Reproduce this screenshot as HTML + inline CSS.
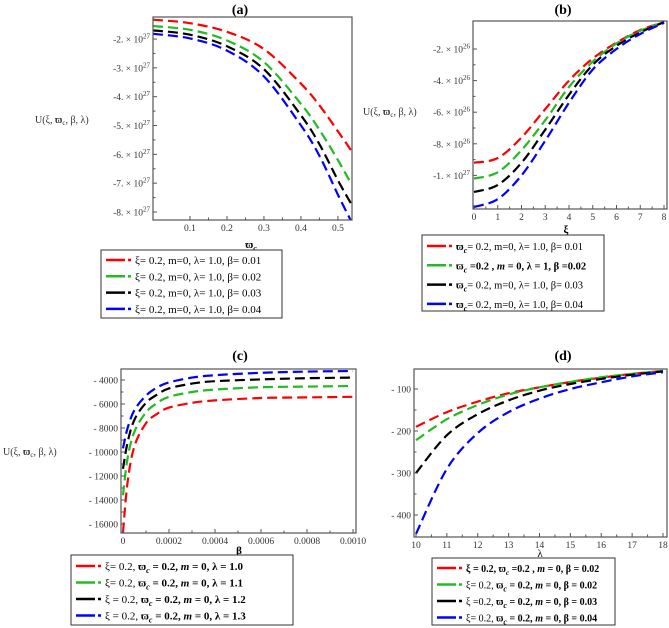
<!DOCTYPE html>
<html><head><meta charset="utf-8">
<style>
html,body{margin:0;padding:0;background:#fff;}
svg{display:block;font-family:"Liberation Serif",serif;}
</style></head>
<body>
<svg id="fig" width="669" height="628" viewBox="0 0 669 628"></svg>
<script>
// ---- Panel (a) data ----
const aX = [0, 0.1, 0.2, 0.3, 0.4, 0.45, 0.5, 0.535];
const aRed = [-1.33, -1.45, -1.75, -2.35, -3.55, -4.3, -5.2, -5.85];
const aGreen = [-1.55, -1.68, -2.05, -2.8, -4.25, -5.15, -6.2, -7.0];
const aBlack = [-1.7, -1.85, -2.25, -3.05, -4.65, -5.65, -6.9, -7.7];
const aBlue = [-1.82, -1.98, -2.4, -3.3, -5.0, -6.05, -7.4, -8.3];
const aXTicks = [0.1, 0.2, 0.3, 0.4, 0.5];
const aYTicks = [-2, -3, -4, -5, -6, -7, -8];
// ---- Panel (b) data ----
const bX = [0, 1, 2, 3, 4, 5, 6, 7, 8];
const bRed = [-9.2, -8.9, -7.6, -5.8, -4.0, -2.6, -1.6, -0.8, -0.3];
const bGreen = [-10.2, -9.8, -8.4, -6.5, -4.4, -2.8, -1.65, -0.85, -0.3];
const bBlack = [-11.05, -10.6, -9.2, -7.1, -4.9, -3.0, -1.8, -0.95, -0.3];
const bBlue = [-12.0, -11.5, -10.0, -7.8, -5.4, -3.3, -2.0, -1.05, -0.35];
const bXTicks = [0, 1, 2, 3, 4, 5, 6, 7, 8];
const bYTicks = [-2, -4, -6, -8, -10];
// ---- Panel (c) data ----
const cX = [0, 0.00002, 0.00005, 0.0001, 0.00015, 0.0002, 0.0003, 0.0004, 0.0006, 0.0008, 0.001];
const cRed = [-16700, -12500, -9500, -7600, -6800, -6300, -5900, -5700, -5500, -5450, -5400];
const cGreen = [-13600, -10500, -8300, -6700, -5900, -5400, -5000, -4800, -4600, -4550, -4500];
const cBlack = [-11400, -9200, -7300, -5900, -5200, -4700, -4300, -4100, -3950, -3850, -3800];
const cBlue = [-9700, -8000, -6500, -5300, -4600, -4200, -3800, -3600, -3400, -3300, -3250];
const cXTicks = [0, 0.0002, 0.0004, 0.0006, 0.0008, 0.001];
const cXTickLabels = ["0", "0.0002", "0.0004", "0.0006", "0.0008", "0.0010"];
const cYTicks = [-4000, -6000, -8000, -10000, -12000, -14000, -16000];
// ---- Panel (d) data ----
const dX = [10, 11, 12, 13, 14, 15, 16, 17, 18];
const dRed = [-190, -155, -130, -110, -96, -83, -73, -64, -57];
const dGreen = [-222, -172, -138, -113, -96, -83, -72, -64, -57];
const dBlack = [-300, -210, -160, -127, -104, -88, -76, -66, -58];
const dBlue = [-445, -290, -205, -155, -123, -100, -84, -70, -60];
const dXTicks = [10, 11, 12, 13, 14, 15, 16, 17, 18];
const dYTicks = [-100, -200, -300, -400];

const NS = "http://www.w3.org/2000/svg";
const svg = document.getElementById("fig");
const colors = ["#ff0000", "#22bb22", "#000000", "#0000ff"];
function mk(tag, attrs, parent, txt) {
  const e = document.createElementNS(NS, tag);
  for (const k in attrs) e.setAttribute(k, attrs[k]);
  if (txt !== undefined) e.textContent = txt;
  (parent || svg).appendChild(e);
  return e;
}
function lin(d0, d1, r0, r1) { return v => r0 + (v - d0) * (r1 - r0) / (d1 - d0); }
function smoothPath(pts) {
  // monotone-ish Catmull-Rom
  let d = "M" + pts[0][0].toFixed(1) + "," + pts[0][1].toFixed(1);
  for (let i = 0; i < pts.length - 1; i++) {
    const p0 = pts[Math.max(0, i - 1)], p1 = pts[i], p2 = pts[i + 1], p3 = pts[Math.min(pts.length - 1, i + 2)];
    const c1 = [p1[0] + (p2[0] - p0[0]) / 6, p1[1] + (p2[1] - p0[1]) / 6];
    const c2 = [p2[0] - (p3[0] - p1[0]) / 6, p2[1] - (p3[1] - p1[1]) / 6];
    d += " C" + c1[0].toFixed(1) + "," + c1[1].toFixed(1) + " " + c2[0].toFixed(1) + "," + c2[1].toFixed(1) + " " + p2[0].toFixed(1) + "," + p2[1].toFixed(1);
  }
  return d;
}

function panel(p) {
  const g = mk("g", {});
  
  
  const sx = lin(p.xd[0], p.xd[1], p.box[0], p.box[2]);
  const sy = lin(p.yd[0], p.yd[1], p.box[3], p.box[1]);
  const t = mk("text", {x: p.title[0], y: p.title[1], "text-anchor": "middle", "font-size": 14, "font-weight": "bold"}, g, p.titleText);
  
  
  const clipId = "clip-" + p.name;
  const cp = mk("clipPath", {id: clipId}, g);
  mk("rect", {x: p.box[0], y: p.box[1], width: p.box[2] - p.box[0], height: p.box[3] - p.box[1]}, cp);
  p.series.forEach((ys, i) => {
    const pts = p.xs.map((x, j) => [sx(x), sy(ys[j])]);
    const pl = mk("path", {d: smoothPath(pts), fill: "none", stroke: colors[i], "stroke-width": 2.2, "stroke-dasharray": "10 5", "clip-path": "url(#" + clipId + ")"}, g);
    
    
  });
  const fr = mk("rect", {x: p.box[0], y: p.box[1], width: p.box[2] - p.box[0], height: p.box[3] - p.box[1], fill: "none", stroke: "#555", "stroke-width": 1.2}, g);
  
  
  p.xt.forEach((v, i) => {
    const x = sx(v);
    mk("line", {x1: x, x2: x, y1: p.box[3], y2: p.box[3] - 4, stroke: "#555"}, g);
    const tl = mk("text", {x: x, y: p.box[3] + 11, "text-anchor": "middle", "font-size": 9.5, fill: "#333"}, g, p.xtl ? p.xtl[i] : String(v));
    
    
  });
  for (let i = 0; i < p.xt.length - 1; i++) {
    const x = sx((p.xt[i] + p.xt[i + 1]) / 2);
    mk("line", {x1: x, x2: x, y1: p.box[3], y2: p.box[3] - 2.5, stroke: "#555"}, g);
  }
  p.yt.forEach((v, i) => {
    const y = sy(v);
    mk("line", {x1: p.box[0], x2: p.box[0] + 4, y1: y, y2: y, stroke: "#555"}, g);
    const tl = mk("text", {x: p.box[0] - 3, y: y + 3.5, "text-anchor": "end", "font-size": 9.5, fill: "#333"}, g);
    
    
    if (p.exp) {
      mk("tspan", {}, tl, "-" + Math.abs(v === -10 ? 1 : v) + ". \u00d7 10");
      mk("tspan", {dy: -4, "font-size": 7}, tl, v === -10 ? String(p.exp + 1) : String(p.exp));
    } else {
      tl.textContent = "- " + Math.abs(v);
    }
  });
  for (let i = 0; i < p.yt.length - 1; i++) {
    const y = sy((p.yt[i] + p.yt[i + 1]) / 2);
    mk("line", {x1: p.box[0], x2: p.box[0] + 2.5, y1: y, y2: y, stroke: "#555"}, g);
  }
  const xl = mk("text", {x: p.xlab[0], y: p.xlab[1], "text-anchor": "middle", "font-size": 11, "font-weight": "bold"}, g);
  
  
  xl.innerHTML = p.xlabHtml;
  if (p.ylab) {
    const yl = mk("text", {x: p.ylab[0], y: p.ylab[1], "font-size": 10, fill: "#333"}, g);
    
    
    yl.innerHTML = p.ylabHtml;
  }
  const L = p.leg;
  const lb = mk("rect", {x: L.x, y: L.y, width: L.w, height: L.h, fill: "#fff", stroke: "#333", "stroke-width": 1}, g);
  
  
  L.rows.forEach((r, i) => {
    const y = L.y + L.first + i * L.step;
    const eg = mk("g", {}, g);
    
    
    mk("line", {x1: L.x + 5, x2: L.x + 24, y1: y, y2: y, stroke: colors[i], "stroke-width": 2.5}, eg);
    mk("line", {x1: L.x + 27, x2: L.x + 30, y1: y, y2: y, stroke: colors[i], "stroke-width": 2.5}, eg);
    const tx = mk("text", {x: L.x + 34, y: y + 4, "font-size": L.fs}, eg);
    tx.innerHTML = r;
  });
}

const ypre = 'U(ξ, <tspan font-weight="bold">ϖ</tspan><tspan font-size="7" dy="2">c</tspan><tspan dy="-2">, β, λ)</tspan>';
const omc = '<tspan font-weight="bold">ϖ</tspan><tspan font-size="8" dy="3" font-weight="bold" font-style="italic">c</tspan><tspan dy="-3">';

panel({name: "panel-a", titleText: "(a)", title: [240, 14], box: [153, 17, 352, 220],
  xd: [0, 0.538], yd: [-8.0 - (220 - 212) / 28.8, -2 + (39 - 17) / 28.8], xs: aX, series: [aRed, aGreen, aBlack, aBlue],
  xt: aXTicks, yt: aYTicks, exp: 27, xlab: [251, 248],
  xlabHtml: 'ϖ<tspan font-size="8" dy="3" font-style="italic">c</tspan>',
  ylab: [35, 123], ylabHtml: ypre,
  leg: {x: 101, y: 250, w: 181, h: 68, first: 10, step: 16.3, fs: 11,
    rows: ["ξ= 0.2, m=0, λ= 1.0, β= 0.01", "ξ= 0.2, m=0, λ= 1.0, β= 0.02", "ξ= 0.2, m=0, λ= 1.0, β= 0.03", "ξ= 0.2, m=0, λ= 1.0, β= 0.04"]}});

panel({name: "panel-b", titleText: "(b)", title: [563, 14], box: [473, 21, 667, 209],
  xd: [-1 / 23.75, 8 + 3 / 23.75], yd: [-2 - (209 - 49) / 15.8, -2 + (49 - 21) / 15.8], xs: bX, series: [bRed, bGreen, bBlack, bBlue],
  xt: bXTicks, yt: bYTicks, exp: 26, xlab: [566, 233],
  xlabHtml: 'ξ',
  ylab: [363, 115], ylabHtml: ypre,
  leg: {x: 422, y: 235, w: 182, h: 76, first: 11, step: 19.3, fs: 10.5,
    rows: [omc + "= 0.2, m=0, λ= 1.0, β= 0.01</tspan>",
      '<tspan font-weight="bold">ϖ</tspan><tspan font-size="8" dy="3" font-weight="bold" font-style="italic">c</tspan><tspan dy="-3" font-weight="bold"> =0.2 , <tspan font-style="italic">m</tspan> = 0, λ = 1, β =0.02</tspan>',
      omc + "= 0.2, m=0, λ= 1.0, β= 0.03</tspan>", omc + "= 0.2, m=0, λ= 1.0, β= 0.04</tspan>"]}});

panel({name: "panel-c", titleText: "(c)", title: [240, 360], box: [121, 369, 356, 533],
  xd: [-2 / 232500, 0.001 + 3 / 232500], yd: [-4000 - (533 - 380) * 2000 / 24, -4000 + (380 - 369) * 2000 / 24], xs: cX, series: [cRed, cGreen, cBlack, cBlue],
  xt: cXTicks, xtl: cXTickLabels, yt: cYTicks, xlab: [239, 554],
  xlabHtml: 'β',
  ylab: [3, 455], ylabHtml: ypre,
  leg: {x: 71, y: 555, w: 222, h: 70, first: 11, step: 16.5, fs: 11,
    rows: ['ξ= 0.2, ' + omc + ' <tspan font-weight="bold">= 0.2, <tspan font-style="italic">m</tspan> = 0, λ = 1.0</tspan></tspan>',
      'ξ= 0.2, ' + omc + ' <tspan font-weight="bold">= 0.2, <tspan font-style="italic">m</tspan> = 0, λ = 1.1</tspan></tspan>',
      'ξ = 0.2, ' + omc + ' <tspan font-weight="bold">= 0.2, <tspan font-style="italic">m</tspan> = 0, λ = 1.2</tspan></tspan>',
      'ξ = 0.2, ' + omc + ' <tspan font-weight="bold">= 0.2, <tspan font-style="italic">m</tspan> = 0, λ = 1.3</tspan></tspan>']}});

panel({name: "panel-d", titleText: "(d)", title: [563, 360], box: [414, 369, 667, 537],
  xd: [10 - 2 / 30.9, 18 + 4 / 30.9], yd: [-100 - (537 - 389) * 100 / 42, -100 + (389 - 369) * 100 / 42], xs: dX, series: [dRed, dGreen, dBlack, dBlue],
  xt: dXTicks, yt: dYTicks, xlab: [540, 557],
  xlabHtml: '<tspan font-weight="normal">λ</tspan>',
  leg: {x: 432, y: 558, w: 183, h: 67, first: 10, step: 16.5, fs: 10,
    rows: ['<tspan font-weight="bold">ξ = 0.2, ϖ<tspan font-size="7" dy="3" font-style="italic">c</tspan><tspan dy="-3"> =0.2 , <tspan font-style="italic">m</tspan> = 0, β = 0.02</tspan></tspan>',
      'ξ= 0.2, ' + omc + ' <tspan font-weight="bold">= 0.2, <tspan font-style="italic">m</tspan> = 0, β = 0.02</tspan></tspan>',
      'ξ =0.2, ' + omc + ' <tspan font-weight="bold">= 0.2, <tspan font-style="italic">m</tspan> = 0, β = 0.03</tspan></tspan>',
      'ξ= 0.2, ' + omc + ' <tspan font-weight="bold">= 0.2, <tspan font-style="italic">m</tspan> = 0, β = 0.04</tspan></tspan>']}});
</script>
</body></html>
